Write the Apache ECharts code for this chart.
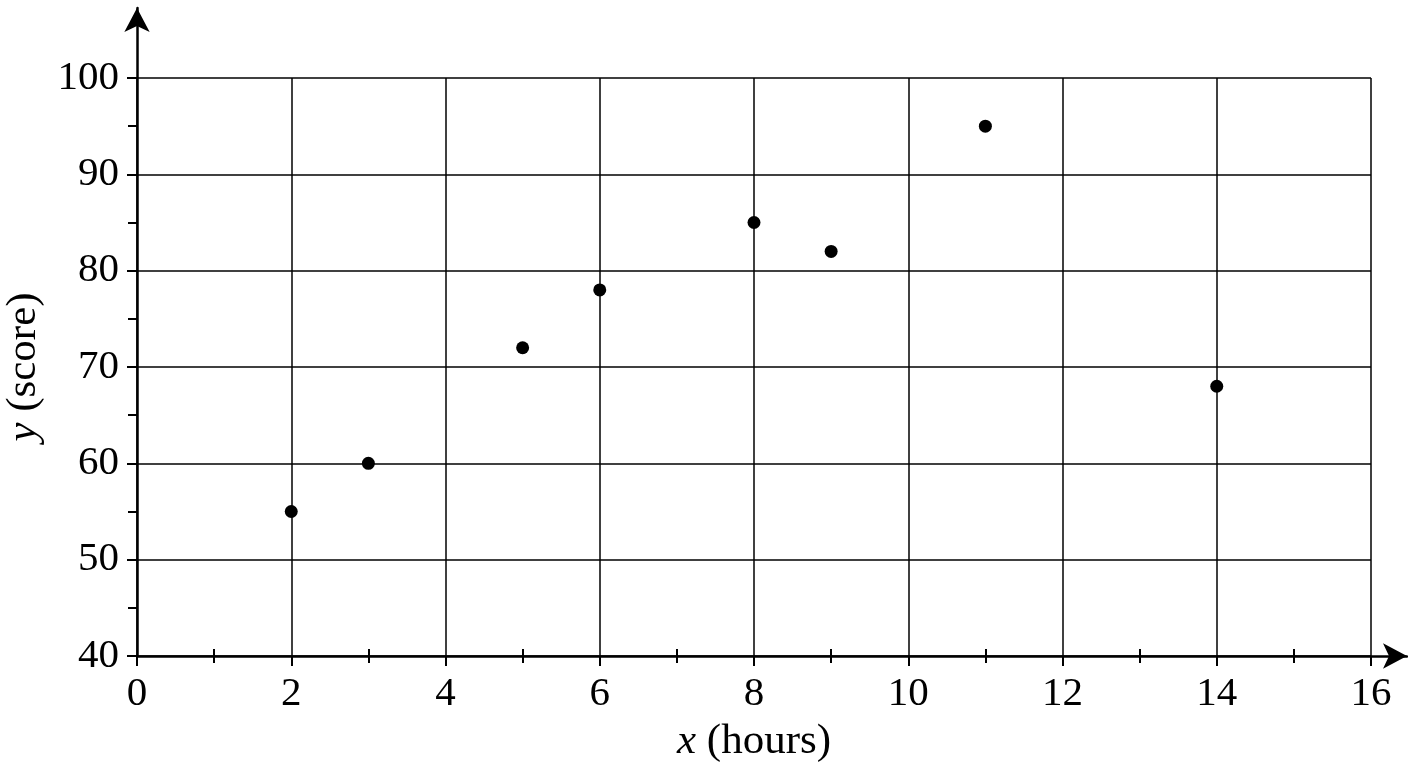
<!DOCTYPE html>
<html>
<head>
<meta charset="utf-8">
<script src="https://cdn.jsdelivr.net/npm/echarts@6/dist/echarts.min.js"></script>
<style>
html,body{margin:0;padding:0;background:#fff;}
#chart{width:1408px;height:768px;}
</style>
</head>
<body>
<div id="chart"></div>
<script>
const hours = [2, 3, 5, 6, 8, 9, 11, 14];
const scores = [55, 60, 72, 78, 85, 82, 95, 68];
const xName = '{i|x} (hours)';
const yName = '{i|y} (score)';

const FONT = '"Liberation Serif", "Times New Roman", serif';
const points = hours.map((h, i) => [h, scores[i]]);

const nameStyle = {
  fontFamily: FONT, fontSize: 43, color: '#000',
  rich: { i: { fontFamily: FONT, fontSize: 43, fontStyle: 'italic', color: '#000' } }
};

const chart = echarts.init(document.getElementById('chart'));
chart.setOption({
  animation: false,
  backgroundColor: '#fff',
  grid: [
    { left: 137, right: 37, top: 78, bottom: 112, containLabel: false, outerBoundsMode: 'none' },
    { left: 137, right: 1, top: 8, bottom: 112, containLabel: false, outerBoundsMode: 'none' }
  ],
  xAxis: [
    {
      gridIndex: 0, type: 'value', min: 0, max: 16, interval: 2,
      name: xName, nameLocation: 'middle', nameGap: 64, nameTextStyle: nameStyle,
      axisLine: { show: false },
      axisTick: { show: true, length: 10, lineStyle: { color: '#000', width: 2 } },
      minorTick: { show: true, splitNumber: 2, length: 7, lineStyle: { color: '#000', width: 2 } },
      axisLabel: { color: '#000', fontFamily: FONT, fontSize: 41, margin: 18 },
      splitLine: { show: true, lineStyle: { color: '#000', width: 1.5 } }
    },
    {
      gridIndex: 0, type: 'value', min: 0, max: 16, interval: 2, position: 'bottom',
      axisLine: { show: false },
      axisTick: { show: false, inside: true },
      minorTick: { show: true, splitNumber: 2, length: 7, lineStyle: { color: '#000', width: 2 } },
      axisLabel: { show: false },
      splitLine: { show: false }
    },
    {
      gridIndex: 1, type: 'value', min: 0, max: 1, position: 'bottom',
      axisLine: { show: true, onZero: false, symbol: ['none', 'arrow'], symbolSize: [19, 24],
        lineStyle: { color: '#000', width: 2.5 } },
      axisTick: { show: false }, axisLabel: { show: false }, splitLine: { show: false }
    }
  ],
  yAxis: [
    {
      gridIndex: 0, type: 'value', min: 40, max: 100, interval: 10,
      name: yName, nameLocation: 'middle', nameGap: 92, nameTextStyle: nameStyle,
      axisLine: { show: false },
      axisTick: { show: true, length: 10, lineStyle: { color: '#000', width: 2 } },
      minorTick: { show: true, splitNumber: 2, length: 9, lineStyle: { color: '#000', width: 2 } },
      axisLabel: { color: '#000', fontFamily: FONT, fontSize: 41, margin: 18 },
      splitLine: { show: true, lineStyle: { color: '#000', width: 1.5 } }
    },
    {
      gridIndex: 1, type: 'value', min: 0, max: 1, position: 'left',
      axisLine: { show: true, onZero: false, symbol: ['none', 'arrow'], symbolSize: [19, 24],
        lineStyle: { color: '#000', width: 2.5 } },
      axisTick: { show: false }, axisLabel: { show: false }, splitLine: { show: false }
    }
  ],
  series: [
    {
      type: 'scatter', xAxisIndex: 0, yAxisIndex: 0,
      data: points, symbol: 'circle', symbolSize: 13,
      itemStyle: { color: '#000', opacity: 1 }
    }
  ]
});
</script>
</body>
</html>
